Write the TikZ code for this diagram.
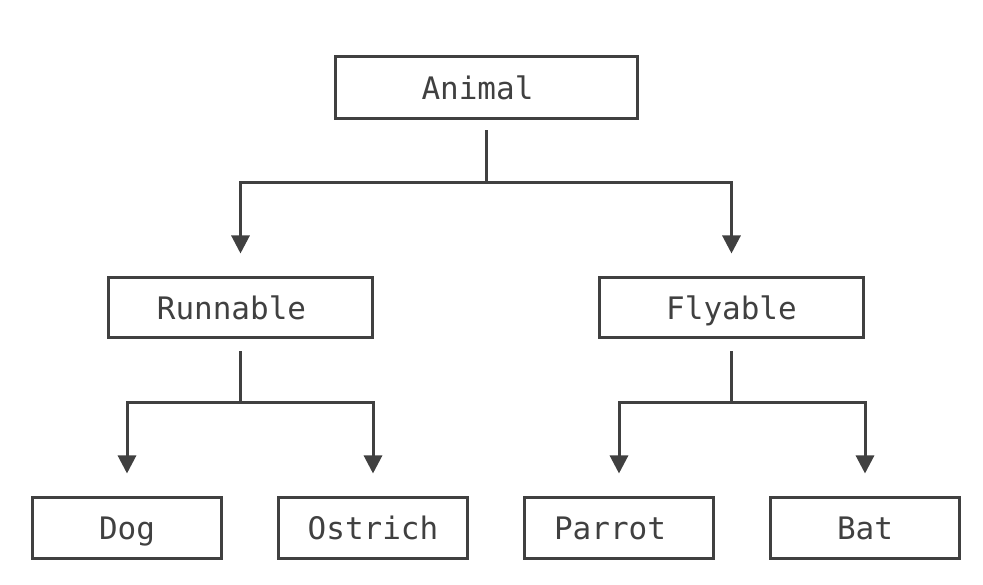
\documentclass[tikz,border=0pt]{standalone}
\usepackage{fontspec}
\setmonofont{DejaVu Sans Mono}
\usepackage{tikz}
\usetikzlibrary{arrows.meta, positioning}
\definecolor{ink}{HTML}{404040}

\begin{document}
\begin{tikzpicture}[x=1pt, y=1pt,
  box/.style={draw=ink, line width=3pt, text=ink, font=\ttfamily\fontsize{31}{36}\selectfont,
    inner sep=0pt, text height=28pt, text depth=5pt},
  conn/.style={draw=ink, line width=3pt, -{Triangle[length=18pt,width=18pt]}}]
\useasboundingbox (0,0) rectangle (983,585);

% Top
\node[box, minimum width=302pt, minimum height=62pt] (animal) at (486.5,497) {Animal\kern18pt};

% Middle
\node[box, minimum width=264pt, minimum height=60pt] (runnable) at (240.5,277) {Runnable\kern18pt};
\node[box, minimum width=264pt, minimum height=60pt] (flyable) at (731.5,277) {Flyable};

% Leaves
\node[box, minimum width=189pt, minimum height=61pt] (dog) at (127,56.5) {Dog};
\node[box, minimum width=189pt, minimum height=61pt] (ostrich) at (373,56.5) {Ostrich};
\node[box, minimum width=189pt, minimum height=61pt] (parrot) at (619,56.5) {Parrot\kern18pt};
\node[box, minimum width=189pt, minimum height=61pt] (bat) at (865,56.5) {Bat};

\draw[conn] ([yshift=-10pt]animal.south) -- ++(0,-52) -| ([yshift=23pt]runnable.north);
\draw[conn] ([yshift=-10pt]animal.south) -- ++(0,-52) -| ([yshift=23pt]flyable.north);

\draw[conn] ([yshift=-12pt]runnable.south) -- ++(0,-51) -| ([yshift=23pt]dog.north);
\draw[conn] ([yshift=-12pt]runnable.south) -- ++(0,-51) -| ([yshift=23pt]ostrich.north);
\draw[conn] ([yshift=-12pt]flyable.south) -- ++(0,-51) -| ([yshift=23pt]parrot.north);
\draw[conn] ([yshift=-12pt]flyable.south) -- ++(0,-51) -| ([yshift=23pt]bat.north);
\end{tikzpicture}
\end{document}
